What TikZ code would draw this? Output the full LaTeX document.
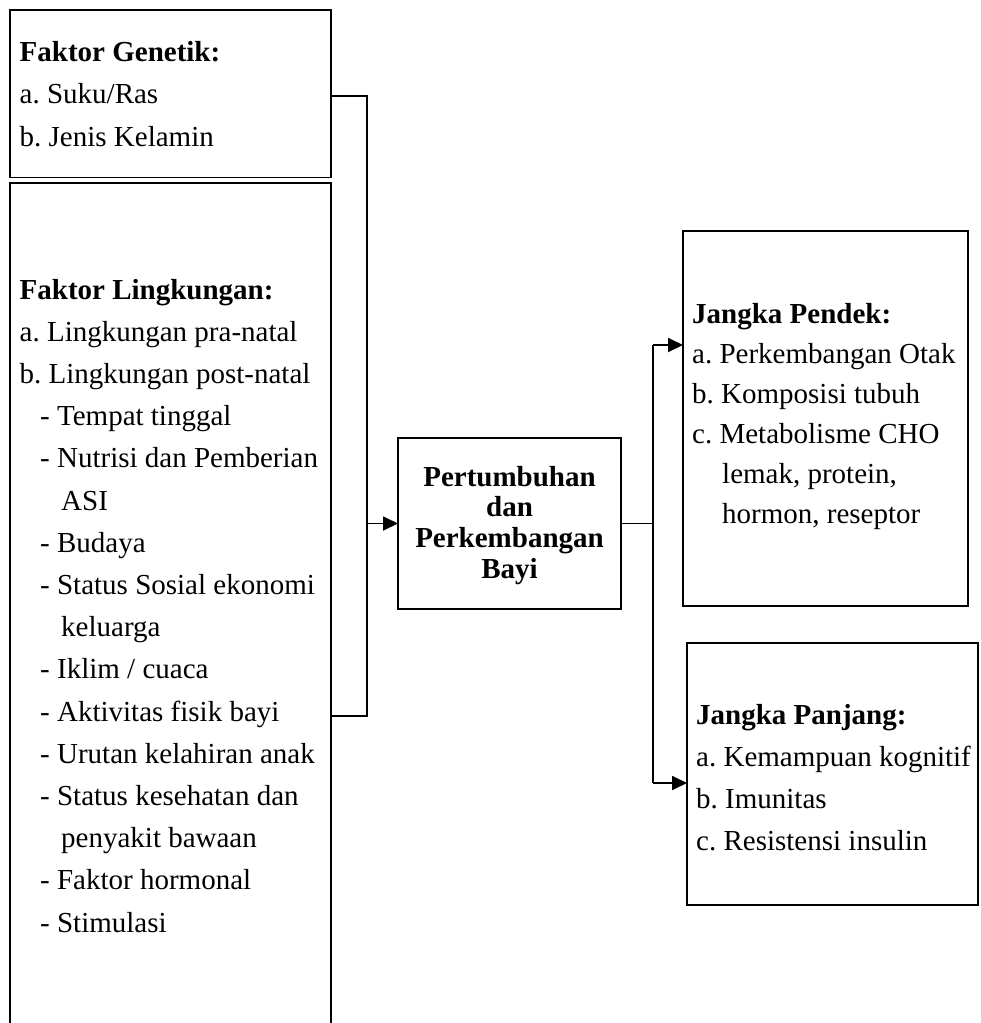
\documentclass[tikz,border=0pt]{standalone}
\usepackage{fontspec}
\setmainfont{Liberation Serif}
\usetikzlibrary{arrows.meta,calc}
\frenchspacing
\begin{document}
\begin{tikzpicture}[x=1pt,y=-1pt,
  box/.style={draw=black,line width=1.8pt,inner sep=0pt,outer sep=0pt,anchor=north west},
  txt/.style={align=left,inner sep=0pt,anchor=base west,font=\fontsize{29}{42.2}\selectfont},
  txtr/.style={align=left,inner sep=0pt,anchor=base west,font=\fontsize{29}{40}\selectfont},
  ctxt/.style={align=center,inner sep=0pt,anchor=base,font=\fontsize{29}{30.7}\selectfont\bfseries},
  conn/.style={line width=1.8pt},
  arr/.style={line width=1.8pt,-{Triangle[length=15pt,width=14pt]}}]
\useasboundingbox (0,0) rectangle (981,1023);
% boxes
\node[box,minimum width=321pt,minimum height=167.5pt] (gen) at (10,10) {};
\node[box,minimum width=321pt,minimum height=860pt] (env) at (10,183) {};
\node[box,minimum width=223pt,minimum height=171.6pt] (pk) at (398,437.7) {};
\node[box,minimum width=285pt,minimum height=375pt] (jp) at (683,231) {};
\node[box,minimum width=291pt,minimum height=262pt] (jl) at (687,643) {};
% texts (anchor = baseline of last line)
\node[txt] (tgen) at (19.5,146.1) {\textbf{Faktor Genetik:}\\a. Suku/Ras\\b. Jenis Kelamin};
\node[txt] (tenv) at (19.5,932) {\textbf{Faktor Lingkungan:}\\
a. Lingkungan pra-natal\\
b. Lingkungan post-natal\\
\hspace*{20.5pt}- Tempat tinggal\\
\hspace*{20.5pt}- Nutrisi dan Pemberian\\
\hspace*{41.5pt}ASI\\
\hspace*{20.5pt}- Budaya\\
\hspace*{20.5pt}- Status Sosial ekonomi\\
\hspace*{41.5pt}keluarga\\
\hspace*{20.5pt}- Iklim / cuaca\\
\hspace*{20.5pt}- Aktivitas fisik bayi\\
\hspace*{20.5pt}- Urutan kelahiran anak\\
\hspace*{20.5pt}- Status kesehatan dan\\
\hspace*{41.5pt}penyakit bawaan\\
\hspace*{20.5pt}- Faktor hormonal\\
\hspace*{20.5pt}- Stimulasi};
\node[ctxt] (tpk) at (509.5,578.1) {Pertumbuhan\\dan\\Perkembangan\\Bayi};
\node[txtr] (tjp) at (692,523) {\textbf{Jangka Pendek:}\\
a. Perkembangan Otak\\
b. Komposisi tubuh\\
c. Metabolisme CHO\\
\hspace*{30pt}lemak, protein,\\
\hspace*{30pt}hormon, reseptor};
\node[txt] (tjl) at (696,850.6) {\textbf{Jangka Panjang:}\\
a. Kemampuan kognitif\\
b. Imunitas\\
c. Resistensi insulin};
% connector coordinates
\coordinate (lb) at (367,95.7);
\coordinate (lj) at (367,716);
\coordinate (rb) at (653,345);
\coordinate (rj) at (653,783);
% connectors
\draw[conn] (gen.east |- lb) -- (lb) -- (lj) -- (env.east |- lj);
\draw[arr] (lb |- pk.west) -- (pk.west);
\draw[conn] (pk.east) -- (pk.east -| rb);
\draw[conn] (rb) -- (rj);
\draw[arr] (rb) -- (jp.west |- rb);
\draw[arr] (rj) -- (jl.west |- rj);
\end{tikzpicture}
\end{document}
